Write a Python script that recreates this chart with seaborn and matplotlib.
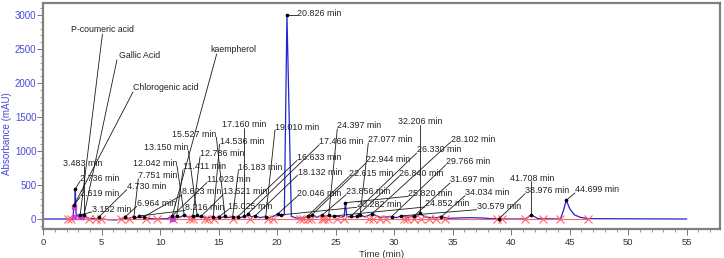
import numpy as np
import pandas as pd
import matplotlib
matplotlib.use("Agg")
import matplotlib.pyplot as plt
from matplotlib.ticker import MultipleLocator
import seaborn as sns

# ---------------- data ----------------
trace_time = [0, 2.40, 2.55, 2.619, 2.68, 2.736, 2.80, 2.95, 3.152, 3.30, 3.483, 3.70, 4.0,
              4.55, 4.730, 4.95, 5.5, 6.2, 6.6, 6.964, 7.3, 7.751, 7.95, 8.216, 8.4, 8.623,
              8.9, 9.6, 10.6, 11.023, 11.2, 11.411, 11.7, 12.042, 12.4, 12.786, 12.95, 13.150,
              13.33, 13.521, 13.9, 14.536, 14.8, 15.025, 15.25, 15.527, 15.8, 16.183, 16.4,
              16.633, 16.9, 17.160, 17.30, 17.466, 17.8, 18.132, 18.5, 19.010, 19.4, 20.046,
              20.15, 20.282, 20.6, 20.826, 21.2, 21.6, 22.3, 22.615, 22.78, 22.944, 23.4,
              23.856, 24.1, 24.397, 24.6, 24.852, 25.5, 25.72, 25.820, 25.95, 26.1, 26.330,
              26.6, 26.840, 26.95, 27.077, 27.5, 28.102, 28.8, 29.766, 30.2, 30.579, 31.2,
              31.697, 31.95, 32.206, 32.6, 33.5, 34.034, 34.6, 35.5, 36.5, 37.5, 38.3, 38.976,
              39.5, 41.2, 41.708, 42.3, 44.2, 44.45, 44.699, 45.0, 45.4, 45.9, 46.6, 55.0]
trace_abs = [0, 0, 30, 200, 160, 445, 80, 40, 60, 40, 60, 20, 5,
             5, 25, 3, -10, -15, 0, 25, 8, 35, 15, 45, 20, 35,
             10, 0, 5, 45, 30, 50, 25, 60, 25, 45, 30, 60,
             30, 45, 15, 35, 15, 35, 20, 45, 20, 35, 20,
             35, 20, 45, 40, 75, 30, 50, 20, 35, 15, 75,
             55, 60, 60, 3000, 40, 15, 15, 45, 35, 60, 25,
             60, 35, 60, 35, 45, 30, 40, 240, 40, 30, 45,
             30, 50, 45, 60, 30, 75, 25, 35, 20, 45, 25,
             45, 40, 85, 30, 15, 35, 10, 15, 20, 15, 5, 5,
             0, 0, 60, 5, 0, 120, 275, 150, 60, 25, 5, 0]

peak_labels = ["2.619 min", "2.736 min", "3.152 min", "3.483 min", "4.730 min", "6.964 min",
               "7.751 min", "8.216 min", "8.623 min", "11.023 min", "11.411 min", "12.042 min",
               "12.786 min", "13.150 min", "13.521 min", "14.536 min", "15.025 min", "15.527 min",
               "16.183 min", "16.633 min", "17.160 min", "17.466 min", "18.132 min", "19.010 min",
               "20.046 min", "20.282 min", "20.826 min", "22.615 min", "22.944 min", "23.856 min",
               "24.397 min", "24.852 min", "25.820 min", "26.330 min", "26.840 min", "27.077 min",
               "28.102 min", "29.766 min", "30.579 min", "31.697 min", "32.206 min", "34.034 min",
               "38.976 min", "41.708 min", "44.699 min"]
peak_time = [2.619, 2.736, 3.152, 3.483, 4.730, 6.964, 7.751, 8.216, 8.623, 11.023, 11.411,
             12.042, 12.786, 13.150, 13.521, 14.536, 15.025, 15.527, 16.183, 16.633, 17.160,
             17.466, 18.132, 19.010, 20.046, 20.282, 20.826, 22.615, 22.944, 23.856, 24.397,
             24.852, 25.820, 26.330, 26.840, 27.077, 28.102, 29.766, 30.579, 31.697, 32.206,
             34.034, 38.976, 41.708, 44.699]
peak_abs = [200, 445, 60, 60, 25, 25, 35, 45, 35, 45, 50, 60, 45, 60, 45, 35, 35, 45, 35, 35,
            45, 75, 50, 35, 75, 60, 3000, 45, 60, 60, 60, 45, 240, 45, 50, 60, 75, 35, 45, 45,
            85, 35, 5, 60, 275]

compound_names = ["P-coumeric acid", "Gallic Acid", "Chlorogenic acid", "kaempherol"]
compound_peak = ["3.152 min", "3.483 min", "2.619 min", "11.023 min"]

baseline_marks = [2.1, 2.4, 3.9, 4.5, 4.9, 6.6, 7.3, 8.8, 9.7, 11.1, 12.5, 12.8, 13.8, 14.1,
                  14.6, 16.2, 17.7, 19.2, 19.6, 21.9, 22.2, 22.6, 22.9, 23.8, 24.0, 24.3, 25.1,
                  25.7, 27.8, 28.2, 28.8, 29.3, 30.8, 31.1, 31.7, 32.3, 33.0, 33.6, 34.3,
                  38.8, 39.2, 41.2, 42.7, 44.2, 46.6]
magenta_time = [2.62, 2.62, 3.1, 3.3, 11.0, 11.1]
magenta_abs = [170, 25, 40, 35, 5, 15]

x_ticks = list(range(0, 56, 5))
y_ticks = list(range(0, 3001, 500))

# ---------------- layout: label anchors in reference-image pixels ----------------
peak_label_px = [(80, 194), (80, 178.3), (91.7, 209), (63.3, 163.3), (126.7, 186.7),
                 (136.7, 203.3), (138.3, 175.7), (185, 207.5), (182, 192), (207, 179.5),
                 (183, 166.7), (132.7, 163.3), (200, 153.8), (144, 147.7), (223, 191.7),
                 (219.5, 141.3), (228.5, 206.5), (172, 134.2), (238.5, 167), (297, 157.5),
                 (221.7, 124.7), (319.3, 141.7), (297.5, 172.3), (275, 127), (297.3, 193.3),
                 (356.7, 204.3), (296.7, 14), (349.3, 173.3), (366, 160), (346, 191.7),
                 (337.3, 126), (425, 204), (408.3, 193.3), (416.7, 150), (399.3, 173.3),
                 (368.3, 140), (450.7, 139), (446, 161.7), (476.7, 206.7), (450, 180),
                 (398.3, 121.7), (465, 192.7), (525, 190.7), (510, 178.3), (575, 190)]
compound_label_px = [(71, 29), (119, 55), (133, 87), (210.7, 49)]
compound_anchor = [0.5, -0.05, 0.0, 0.13]

W, H = 724, 258
BLUE = "#2323cf"
AXBLUE = "#4a4ad6"
RED = "#ff6464"

sns.set_style("ticks")
plt.rcParams["font.family"] = ["Liberation Sans", "DejaVu Sans"]

fig = plt.figure(figsize=(W / 100, H / 100), dpi=100)
ax = fig.add_axes([43.3 / W, (H - 229) / H, (720.1 - 43.3) / W, 226 / H])
ax.set_xlim(0, 57.85)
ax.set_ylim(-147, 3176)

df = pd.DataFrame({"time": trace_time, "abs": trace_abs})
sns.lineplot(data=df, x="time", y="abs", ax=ax, color=BLUE, lw=0.9, zorder=2,
             sort=False, estimator=None)

# red integration baseline with markers
ax.plot(baseline_marks, [0] * len(baseline_marks), color=RED, lw=0.8, zorder=3)
ax.plot(baseline_marks, [0] * len(baseline_marks), ls="none", marker="x", ms=6,
        mew=0.8, color=RED, zorder=4)
ax.plot(magenta_time, magenta_abs, ls="none", marker="s", ms=3, color="#d23cd2", zorder=4)

pk = pd.DataFrame({"time": peak_time, "abs": peak_abs})
sns.scatterplot(data=pk, x="time", y="abs", ax=ax, color="black", s=7, linewidth=0,
                zorder=6)

inv = ax.transData.inverted()


def px2data(px, py):
    return inv.transform((px, H - py))


texts = []
for lab, (px, py) in zip(peak_labels, peak_label_px):
    x, y = px2data(px, py)
    texts.append(ax.text(x, y, lab, fontsize=6.4, color="#222222", ha="left", va="center",
                         zorder=5))
ctexts = []
for name, (px, py) in zip(compound_names, compound_label_px):
    x, y = px2data(px, py)
    ctexts.append(ax.text(x, y, name, fontsize=6.3, color="#222222", ha="left",
                          va="center", zorder=5))

fig.canvas.draw()
rend = fig.canvas.get_renderer()
peak_xy = dict(zip(peak_labels, zip(peak_time, peak_abs)))

for txt, lab in zip(texts, peak_labels):
    bb = txt.get_window_extent(rend)
    dx, dy = ax.transData.transform(peak_xy[lab])
    axp = min(max(dx, bb.x0), bb.x1)
    ayp = min(max(dy, bb.y0 + 1.5), bb.y1 - 2)
    (x0, y0), (x1, y1) = inv.transform((dx, dy)), inv.transform((axp, ayp))
    ax.plot([x0, x1], [y0, y1], color="#1a1a1a", lw=0.6, zorder=4.5)

for txt, lab, fr in zip(ctexts, compound_peak, compound_anchor):
    bb = txt.get_window_extent(rend)
    dx, dy = ax.transData.transform(peak_xy[lab])
    axp = bb.x0 + fr * bb.width
    ayp = bb.y0 - 0.5
    (x0, y0), (x1, y1) = inv.transform((dx, dy)), inv.transform((axp, ayp))
    ax.plot([x0, x1], [y0, y1], color="#1a1a1a", lw=0.6, zorder=4.5)

# axes styling
ax.set_xticks(x_ticks)
ax.set_yticks(y_ticks)
ax.xaxis.set_minor_locator(MultipleLocator(1))
ax.yaxis.set_minor_locator(MultipleLocator(100))
ax.tick_params(axis="both", which="major", direction="out", length=4, width=0.7,
               color="#777777")
ax.tick_params(axis="both", which="minor", direction="out", length=2.5, width=0.6,
               color="#888888")
ax.tick_params(axis="x", which="major", labelsize=6.8, labelcolor="#333333", pad=2.5)
ax.tick_params(axis="y", which="major", labelsize=7, labelcolor=AXBLUE, pad=1)
for s in ax.spines.values():
    s.set_color("#808080")
    s.set_linewidth(1.6)

ax.set_xlabel("Time (min)", fontsize=6.8, color="#333333", labelpad=2)
ax.set_ylabel("Absorbance (mAU)", fontsize=7, color=AXBLUE)
ax.yaxis.set_label_coords(-0.0465, 0.42)
ax.grid(False)

fig.savefig("out.png", dpi=100)
